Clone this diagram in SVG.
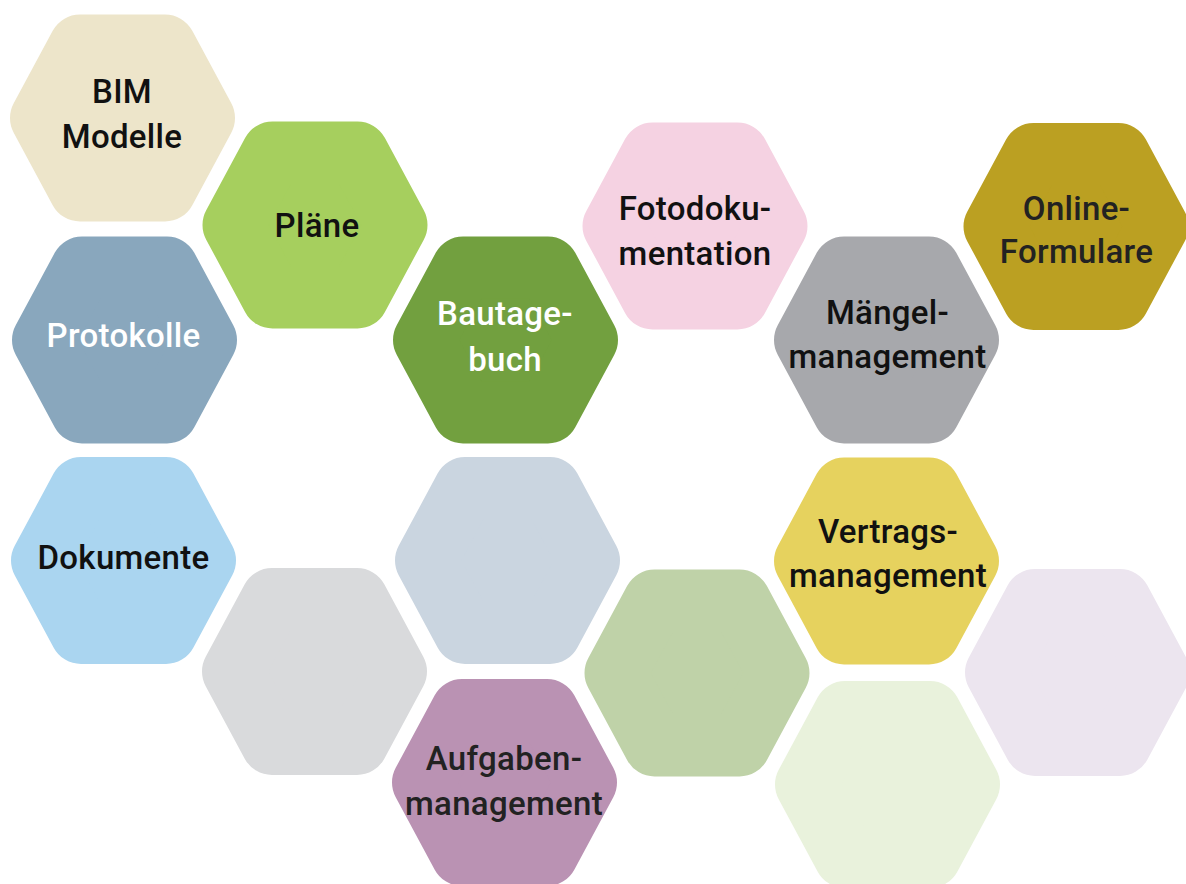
<svg xmlns="http://www.w3.org/2000/svg" xmlns:xlink="http://www.w3.org/1999/xlink" width="1186" height="884" viewBox="0 0 1186 884">
  <style>
    .hex { stroke-width: 62; stroke-linejoin: round; }
    .lbl { font-family: Roboto, "Liberation Sans", sans-serif; font-size: 33px; font-weight: 500; letter-spacing: 0.3px; text-anchor: middle; fill: #111111; }
    .wht { fill: #ffffff; }
    .drk { fill: #222222; }
  </style>
  <defs>
    <polygon id="hx" points="-42.5,-72.5 42.5,-72.5 81.5,0 42.5,72.5 -42.5,72.5 -81.5,0"/>
  </defs>
  <rect width="1186" height="884" fill="#ffffff"/>

  <g id="bim">
    <use xlink:href="#hx" href="#hx" class="hex" x="122.5" y="118" fill="#EDE5CA" stroke="#EDE5CA"/>
    <text class="lbl" x="122" y="103">BIM</text>
    <text class="lbl" x="122" y="148">Modelle</text>
  </g>
  <g id="plaene">
    <use xlink:href="#hx" href="#hx" class="hex" x="315" y="225" fill="#A6CF5E" stroke="#A6CF5E"/>
    <text class="lbl" x="317" y="237">Pläne</text>
  </g>
  <g id="protokolle">
    <use xlink:href="#hx" href="#hx" class="hex" x="124.5" y="340" fill="#89A7BD" stroke="#89A7BD"/>
    <text class="lbl wht" x="123.5" y="347">Protokolle</text>
  </g>
  <g id="bautagebuch">
    <use xlink:href="#hx" href="#hx" class="hex" x="505.5" y="340" fill="#72A03F" stroke="#72A03F"/>
    <text class="lbl wht" x="505" y="325">Bautage-</text>
    <text class="lbl wht" x="505" y="371">buch</text>
  </g>
  <g id="fotodokumentation">
    <use xlink:href="#hx" href="#hx" class="hex" x="695" y="226" fill="#F5D2E2" stroke="#F5D2E2"/>
    <text class="lbl" x="695" y="220">Fotodoku-</text>
    <text class="lbl" x="695" y="265">mentation</text>
  </g>
  <g id="online-formulare">
    <use xlink:href="#hx" href="#hx" class="hex" x="1076" y="226.5" fill="#BBA022" stroke="#BBA022"/>
    <text class="lbl drk" x="1076.5" y="220">Online-</text>
    <text class="lbl drk" x="1076.5" y="263">Formulare</text>
  </g>
  <g id="maengelmanagement">
    <use xlink:href="#hx" href="#hx" class="hex" x="886.5" y="340" fill="#A7A8AC" stroke="#A7A8AC"/>
    <text class="lbl" x="887.5" y="324">Mängel-</text>
    <text class="lbl" x="887.5" y="368">management</text>
  </g>
  <g id="dokumente">
    <use xlink:href="#hx" href="#hx" class="hex" x="123.5" y="560.5" fill="#AAD5F0" stroke="#AAD5F0"/>
    <text class="lbl" x="123.5" y="569">Dokumente</text>
  </g>
  <g id="grey-blank">
    <use xlink:href="#hx" href="#hx" class="hex" x="314.5" y="671.5" fill="#D9DADC" stroke="#D9DADC"/>
  </g>
  <g id="bluegrey-blank">
    <use xlink:href="#hx" href="#hx" class="hex" x="507.5" y="560.5" fill="#CAD5E0" stroke="#CAD5E0"/>
  </g>
  <g id="aufgabenmanagement">
    <use xlink:href="#hx" href="#hx" class="hex" x="504.5" y="782.5" fill="#BA92B3" stroke="#BA92B3"/>
    <text class="lbl drk" x="504" y="770">Aufgaben-</text>
    <text class="lbl drk" x="504" y="815">management</text>
  </g>
  <g id="lightgreen-blank">
    <use xlink:href="#hx" href="#hx" class="hex" x="697" y="673" fill="#BFD2A8" stroke="#BFD2A8"/>
  </g>
  <g id="vertragsmanagement">
    <use xlink:href="#hx" href="#hx" class="hex" x="886.5" y="561" fill="#E6D25E" stroke="#E6D25E"/>
    <text class="lbl" x="888" y="543">Vertrags-</text>
    <text class="lbl" x="888" y="587">management</text>
  </g>
  <g id="lavender-blank">
    <use xlink:href="#hx" href="#hx" class="hex" x="1077.5" y="672.5" fill="#ECE5EF" stroke="#ECE5EF"/>
  </g>
  <g id="palegreen-blank">
    <use xlink:href="#hx" href="#hx" class="hex" x="887.5" y="784.5" fill="#E9F2DC" stroke="#E9F2DC"/>
  </g>
</svg>
